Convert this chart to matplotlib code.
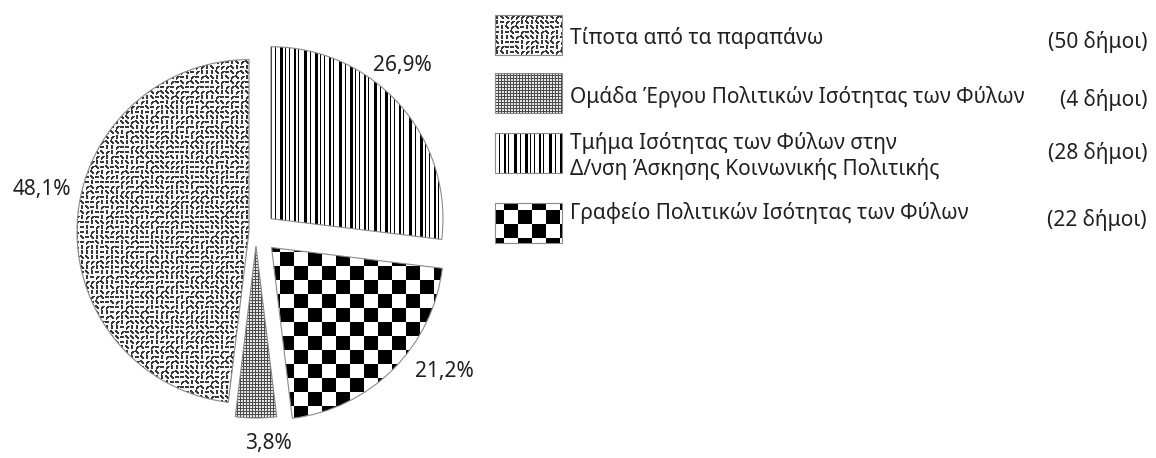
import matplotlib
matplotlib.use("Agg")
import matplotlib.pyplot as plt
from matplotlib.patches import Rectangle
import numpy as np

# data
labels = ['Τίποτα από τα παραπάνω',
          'Ομάδα Έργου Πολιτικών Ισότητας των Φύλων',
          'Τμήμα Ισότητας των Φύλων στην\nΔ/νση Άσκησης Κοινωνικής Πολιτικής',
          'Γραφείο Πολιτικών Ισότητας των Φύλων']
counts = [50, 4, 28, 22]
count_labels = ['(50 δήμοι)', '(4 δήμοι)', '(28 δήμοι)', '(22 δήμοι)']
pie_order = [2, 3, 1, 0]          # clockwise from 12 o'clock

W, H = 1156, 458
R = 172                            # pie radius in px
explode_px = [7, 14, 20, 22]       # offset of each slice (legend order)

plt.rcParams['font.family'] = ['Noto Sans', 'DejaVu Sans']
txt_color = '#231f20'

fig = plt.figure(figsize=(W / 100, H / 100), dpi=100)
ax = fig.add_axes([0, 0, 1, 1])

# textures on a pixel grid of the whole canvas (0 = black, 1 = white)
yy, xx = np.mgrid[0:H, 0:W]

def worms():
    # short dashes, orientation picked per cell by a fixed hash
    c = 5
    lx, ly = xx % c, yy % c
    ci, cj = yy // c, xx // c
    h = np.sin(ci * 12.9898 + cj * 78.233) * 43758.5453
    k = ((h - np.floor(h)) * 4).astype(int)
    d0 = (ly >= 1) & (ly <= 2) & (lx <= 3)
    d1 = (lx >= 1) & (lx <= 2) & (ly <= 3)
    d2 = (np.abs(lx - ly) <= 1) & (lx <= 3) & (ly <= 3)
    d3 = (np.abs(lx + ly - 4) <= 1) & (lx >= 1) & (ly >= 1)
    dark = np.select([k == 0, k == 1, k == 2, k == 3], [d0, d1, d2, d3])
    return np.where(dark, 0.22, 0.97)

def stripes():
    unit = [(1, 3), (0, 2), (1, 1), (0, 3), (1, 1), (0, 4), (1, 2), (0, 2),
            (1, 1), (0, 5), (1, 3), (0, 3), (1, 1), (0, 4)]
    row = np.concatenate([np.full(w, 0.0 if d else 1.0) for d, w in unit])
    row = np.tile(row, W // len(row) + 1)[:W]
    return np.tile(row, (H, 1))

def checker():
    return ((xx // 14 + yy // 14) % 2).astype(float)

def grid():
    return np.where((xx % 3 == 0) | (yy % 3 == 0), 0.3, 0.9)

textures = [worms(), grid(), stripes(), checker()]

def fill(patch, tex):
    im = ax.imshow(tex, extent=(0, W, 0, H), origin='upper', cmap='gray',
                   vmin=0, vmax=1, interpolation='nearest', zorder=1)
    im.set_clip_path(patch)

# pie (explode is in data units = px here)
vals = [counts[i] for i in pie_order]
wedges, _ = ax.pie(vals, explode=[explode_px[i] for i in pie_order],
                   startangle=90, counterclock=False, radius=R,
                   center=(256, H - 232), colors=['none'] * 4, frame=True,
                   wedgeprops=dict(edgecolor='#8a8a8a', linewidth=0.8))
for w, i in zip(wedges, pie_order):
    w.set_zorder(2)
    fill(w, textures[i])

# percentage labels
total = sum(counts)
pct_pos = [(42, 189), (268, 444), (402, 65), (444, 372)]
for i in range(4):
    s = f"{counts[i] / total * 100:.1f}%".replace('.', ',')
    ax.text(pct_pos[i][0], H - pct_pos[i][1], s, fontsize=15,
            color=txt_color, ha='center', va='center')

# legend
sw_top = [15, 73, 133, 203]
txt_y = [38, 97, 156, 213]
cnt_y = [42, 100, 153, 220]
for i in range(4):
    r = Rectangle((495, H - sw_top[i] - 40), 67, 40, facecolor='none',
                  edgecolor='#8a8a8a', linewidth=0.8, zorder=2)
    ax.add_patch(r)
    fill(r, textures[i])
    ax.text(570, H - txt_y[i], labels[i], fontsize=15, color=txt_color,
            ha='left', va='center', linespacing=1.2)
    ax.text(1147, H - cnt_y[i], count_labels[i], fontsize=15,
            color=txt_color, ha='right', va='center')

ax.set_xlim(0, W)
ax.set_ylim(0, H)
ax.axis('off')

fig.savefig('out.png', dpi=100)
